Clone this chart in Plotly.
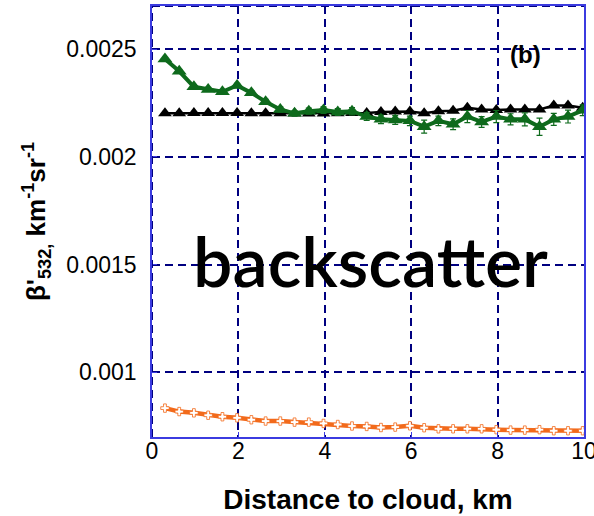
import plotly.graph_objects as go

# Distance to cloud (km) for each retrieval bin
distance_km = [0.30, 0.63, 0.97, 1.30, 1.63, 1.97, 2.30, 2.63, 2.97, 3.30,
               3.63, 3.97, 4.30, 4.63, 4.97, 5.30, 5.63, 5.97, 6.30, 6.63,
               6.97, 7.30, 7.63, 7.97, 8.30, 8.63, 8.97, 9.30, 9.63, 9.97]

# Attenuated backscatter at 532 nm, km^-1 sr^-1
beta_black = [0.002202, 0.002202, 0.002203, 0.002203, 0.002203, 0.002203, 0.002202, 0.002202, 0.002202, 0.002201,
              0.002201, 0.002201, 0.002202, 0.002203, 0.002204, 0.002208, 0.002210, 0.002210, 0.002202, 0.002212,
              0.002214, 0.002228, 0.002220, 0.002217, 0.002220, 0.002220, 0.002220, 0.002238, 0.002238, 0.002228]
err_black = [0.000005] * 30

beta_green = [0.002454, 0.002397, 0.002325, 0.002313, 0.002302, 0.002331, 0.002297, 0.002256, 0.002220, 0.002202,
              0.002212, 0.002217, 0.002208, 0.002212, 0.002187, 0.002174, 0.002171, 0.002167, 0.002140, 0.002167,
              0.002151, 0.002187, 0.002162, 0.002187, 0.002174, 0.002174, 0.002140, 0.002174, 0.002187, 0.002216]
err_green = [0.000008, 0.000008, 0.000009, 0.000009, 0.000010, 0.000010, 0.000010, 0.000011, 0.000012, 0.000013,
             0.000014, 0.000015, 0.000016, 0.000017, 0.000018, 0.000020, 0.000020, 0.000022, 0.000030, 0.000022,
             0.000025, 0.000028, 0.000025, 0.000028, 0.000026, 0.000030, 0.000040, 0.000028, 0.000030, 0.000025]

beta_orange = [0.000834, 0.000818, 0.000812, 0.000801, 0.000794, 0.000789, 0.000780, 0.000774, 0.000774, 0.000769,
               0.000769, 0.000763, 0.000758, 0.000751, 0.000749, 0.000744, 0.000746, 0.000752, 0.000743, 0.000738,
               0.000738, 0.000738, 0.000738, 0.000734, 0.000732, 0.000732, 0.000734, 0.000729, 0.000729, 0.000729]

x_ticks = [0, 2, 4, 6, 8, 10]
y_ticks = [0.001, 0.0015, 0.002, 0.0025]
y_tick_text = ["0.001", "0.0015", "0.002", "0.0025"]
x_range = [0, 10]
y_range = [0.0007, 0.0027]

GREEN = "#0E6A1C"
ORANGE = "#F26A1B"
AXIS_BLUE = "#3B3BE0"
GRID_NAVY = "#000080"
GRID_DASH = "8px,5px"

fig = go.Figure()

fig.add_trace(go.Scatter(
    x=distance_km, y=beta_orange, mode="lines+markers",
    line=dict(color=ORANGE, width=4.5),
    marker=dict(symbol="cross", size=7, color="white", line=dict(color=ORANGE, width=0.8)),
    showlegend=False,
))

fig.add_trace(go.Scatter(
    x=distance_km, y=beta_black, mode="lines+markers",
    line=dict(color="black", width=2.5),
    marker=dict(symbol="triangle-up", size=12, color="black"),
    error_y=dict(type="data", array=err_black, color="white", thickness=1, width=2),
    showlegend=False,
))

fig.add_trace(go.Scatter(
    x=distance_km, y=beta_green, mode="lines+markers",
    line=dict(color=GREEN, width=4),
    marker=dict(symbol="triangle-up", size=13, color=GREEN),
    error_y=dict(type="data", array=err_green, color=GREEN, thickness=1.2, width=3),
    showlegend=False,
))

# dashed frame on the left and top edges, same style as the grid
fig.add_shape(type="line", xref="x", yref="y", x0=x_range[0], x1=x_range[0], y0=y_range[0], y1=y_range[1],
              line=dict(color=GRID_NAVY, width=2, dash=GRID_DASH), layer="above")
fig.add_shape(type="line", xref="x", yref="y", x0=x_range[0], x1=x_range[1], y0=y_range[1], y1=y_range[1],
              line=dict(color=GRID_NAVY, width=2, dash=GRID_DASH), layer="above")

fig.add_annotation(
    x=5.05, y=0.00152, xref="x", yref="y", text="backscatter", showarrow=False,
    font=dict(family="Comic Sans MS, Lato", size=70, color="black", weight=600),
)
fig.add_annotation(
    x=8.65, y=0.002474, xref="x", yref="y", text="<b>(b)</b>", showarrow=False,
    font=dict(family="Arial, Liberation Sans", size=24, color="black"),
)

fig.update_xaxes(
    range=x_range, tickvals=x_ticks, ticks="inside", ticklen=5, tickcolor=AXIS_BLUE,
    ticklabelstandoff=-7, ticklabeloverflow="allow",
    showline=True, linecolor=AXIS_BLUE, linewidth=1.5, mirror=True,
    showgrid=True, gridcolor=GRID_NAVY, gridwidth=2, griddash=GRID_DASH, zeroline=False,
    tickfont=dict(family="Arial, Liberation Sans", size=23, color="black"),
    title=dict(text="<b>Distance to cloud, km</b>", standoff=26,
               font=dict(family="Arial, Liberation Sans", size=28, color="black")),
)
fig.update_yaxes(
    range=y_range, tickvals=y_ticks, ticktext=y_tick_text,
    ticks="inside", ticklen=5, tickcolor=AXIS_BLUE, ticklabelstandoff=9,
    showline=True, linecolor=AXIS_BLUE, linewidth=1.5, mirror=True,
    showgrid=True, gridcolor=GRID_NAVY, gridwidth=2, griddash=GRID_DASH, zeroline=False,
    tickfont=dict(family="Arial, Liberation Sans", size=23, color="black"),
    title=dict(text="<b>β'<sub>532,</sub> km<sup>-1</sup>sr<sup>-1</sup></b>", standoff=13,
               font=dict(family="Arial, Liberation Sans", size=26, color="black")),
)

fig.update_layout(
    width=594, height=516,
    margin=dict(l=152, r=10, t=6, b=79, autoexpand=False),
    paper_bgcolor="white", plot_bgcolor="white",
)

fig.write_html("out.html")
